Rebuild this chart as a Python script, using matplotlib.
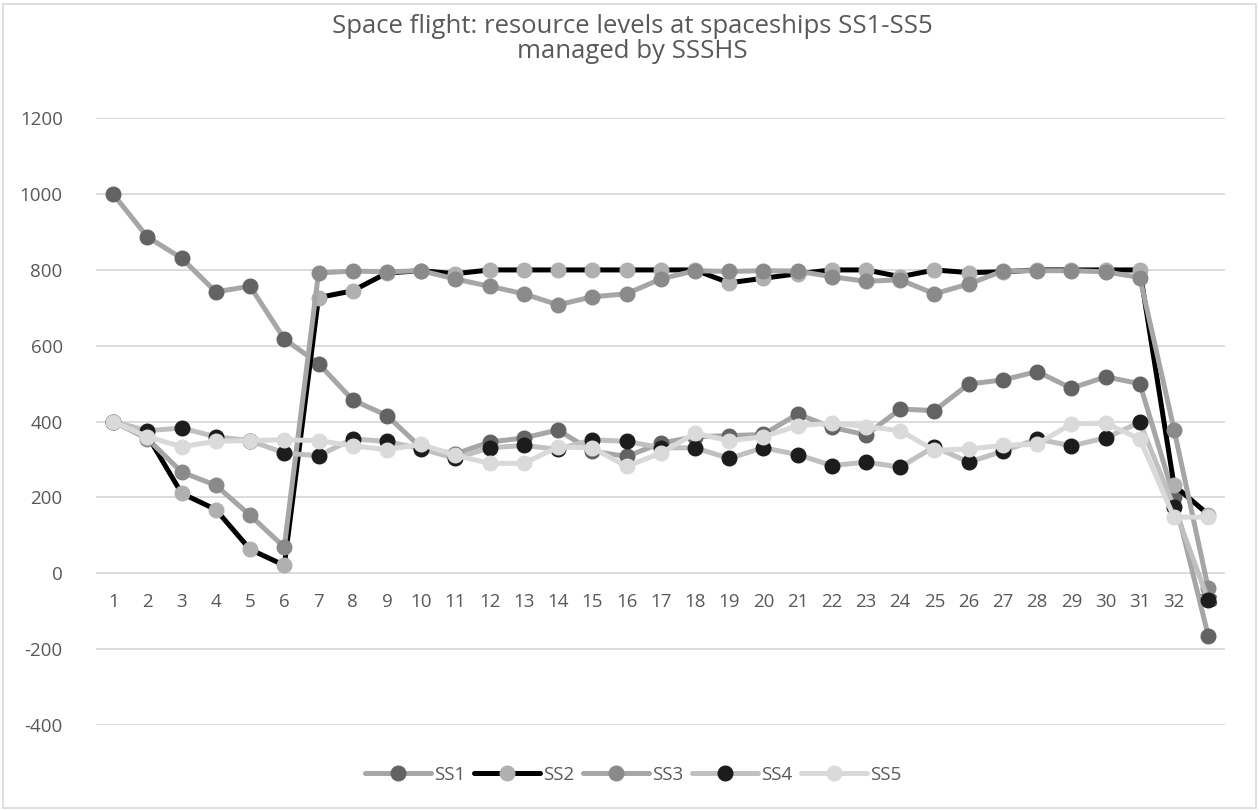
import matplotlib
matplotlib.use('Agg')
import matplotlib.pyplot as plt
from matplotlib.patches import Rectangle

plt.rcParams['font.family'] = ['Open Sans', 'DejaVu Sans']
plt.rcParams['axes.unicode_minus'] = False

steps = list(range(1, 34))

ss1 = [1000, 887, 831, 742, 757, 618, 553, 457, 416, 331,
       315, 346, 357, 378, 322, 308, 343, 360, 363, 366,
       420, 385, 365, 433, 429, 499, 510, 532, 488, 518,
       500, 200, -165]
ss2 = [400, 363, 211, 168, 63, 21, 727, 745, 792, 798,
       790, 800, 800, 800, 800, 800, 800, 800, 766, 778,
       790, 800, 800, 782, 800, 793, 795, 800, 800, 800,
       800, 232, 155]
ss3 = [400, 355, 267, 232, 153, 69, 792, 797, 795, 798,
       776, 757, 737, 708, 729, 737, 776, 798, 796, 798,
       797, 782, 770, 774, 737, 763, 797, 798, 798, 795,
       780, 379, -40]
ss4 = [400, 376, 383, 360, 350, 317, 310, 354, 348, 328,
       303, 331, 337, 327, 352, 348, 331, 331, 303, 331,
       313, 284, 293, 280, 334, 293, 322, 354, 336, 357,
       398, 175, -71]
ss5 = [400, 360, 334, 348, 350, 352, 350, 336, 326, 340,
       311, 290, 290, 333, 331, 282, 317, 369, 350, 360,
       389, 396, 387, 376, 324, 328, 337, 341, 394, 396,
       354, 148, 148]

names = ['SS1', 'SS2', 'SS3', 'SS4', 'SS5']
series = [ss1, ss2, ss3, ss4, ss5]
line_colors = ['#a6a6a6', '#000000', '#a6a6a6', '#c0c0c0', '#d9d9d9']
marker_colors = ['#636363', '#b0b0b0', '#8a8a8a', '#1c1c1c', '#dadada']

text_color = '#595959'

fig = plt.figure(figsize=(12.59, 8.10), dpi=100)
ax = fig.add_axes([0.0763, 0.105, 0.897, 0.749])

for name, vals, lc, mc in zip(names, series, line_colors, marker_colors):
    ax.plot(steps, vals, color=lc, lw=3.6, marker='o', markersize=10.5,
            markerfacecolor=mc, markeredgecolor=mc, label=name,
            solid_capstyle='round', solid_joinstyle='round')

ax.set_xlim(0.5, 33.5)
ax.set_ylim(-400, 1200)
ax.set_yticks(range(-400, 1201, 200))
ax.set_xticks(steps)
ax.set_xticklabels([str(s) for s in steps])

ax.yaxis.grid(True, color='#d9d9d9', lw=1.3)
ax.set_axisbelow(True)
for side in ['top', 'right', 'left']:
    ax.spines[side].set_visible(False)
# category labels sit just under the zero line, like the spreadsheet chart
ax.spines['bottom'].set_position(('data', 0))
ax.spines['bottom'].set_visible(False)
ax.tick_params(axis='x', length=0, pad=14, labelsize=13.5, colors=text_color)
ax.tick_params(axis='y', length=0, pad=24, labelsize=13.5, colors=text_color)

fig.text(0.502, 0.983, 'Space flight: resource levels at spaceships SS1-SS5\nmanaged by SSSHS',
         ha='center', va='top', fontsize=18.5, color=text_color, linespacing=1.0)

leg = fig.legend(loc='center', bbox_to_anchor=(0.503, 1 - 775 / 810), ncol=5,
                 frameon=False, fontsize=13.5, handlelength=3.5,
                 columnspacing=0.5, handletextpad=0.15)
for t in leg.get_texts():
    t.set_color(text_color)

fig.patches.append(Rectangle((0.002, 0.002), 0.996, 0.993, transform=fig.transFigure,
                             fill=False, edgecolor='#d9d9d9', lw=1.2))

fig.savefig('out.png', dpi=100, facecolor='white')
